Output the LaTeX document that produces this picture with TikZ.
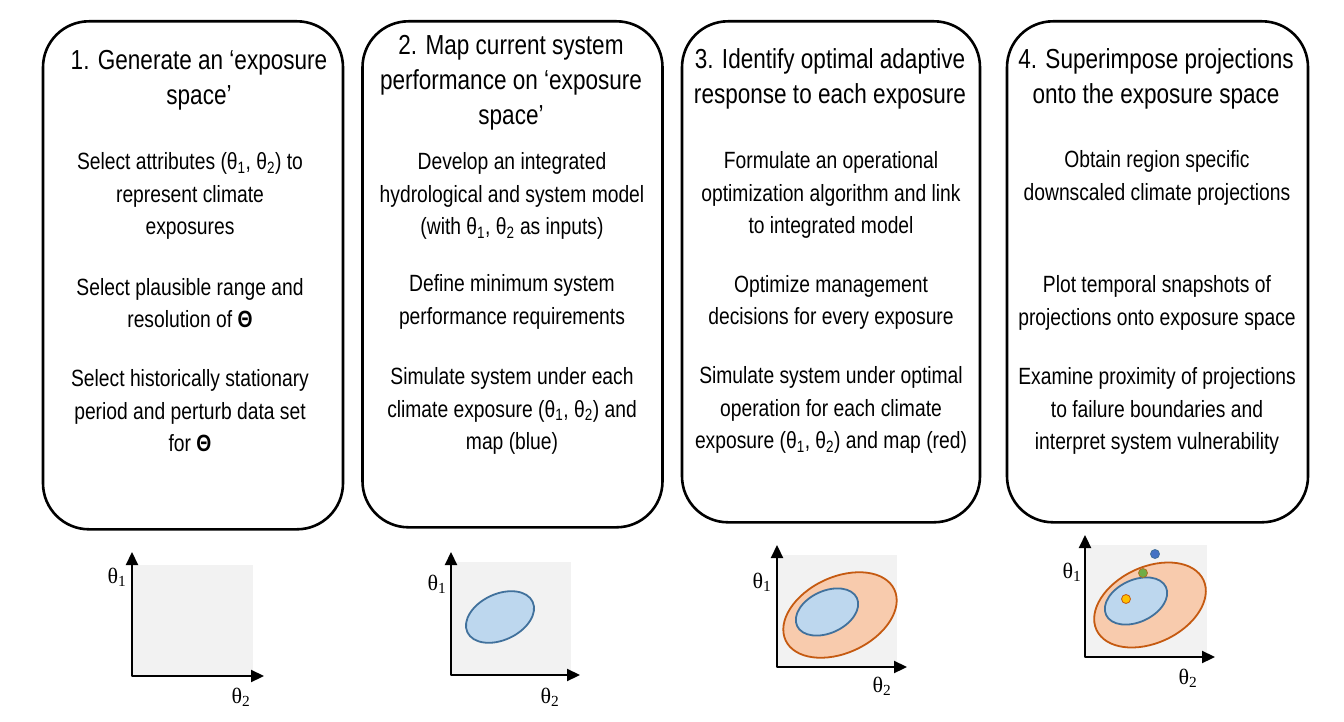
\documentclass[tikz,border=0pt]{standalone}
\usepackage{fontspec}
\setmainfont{Liberation Sans}[FakeStretch=0.82]
\newfontfamily\plotfont{Liberation Serif}
\usepackage{tikz}
\usetikzlibrary{arrows.meta,positioning}
\definecolor{panelgray}{HTML}{F2F2F2}
\definecolor{feasfill}{HTML}{BDD7EE}
\definecolor{feasline}{HTML}{41719C}
\definecolor{adaptfill}{HTML}{F8CBAD}
\definecolor{adaptline}{HTML}{C55A11}
\definecolor{dotblue}{HTML}{4472C4}
\definecolor{dotgreen}{HTML}{70AD47}
\definecolor{dotyellow}{HTML}{FFC000}
\tikzset{
  stepbox/.style={draw, line width=2.6pt, rounded corners=46pt, minimum width=300pt, inner sep=0pt, anchor=north},
  steptitle/.style={align=center, inner sep=0pt, font=\fontsize{27.5}{35}\selectfont},
  steptext/.style={align=center, inner sep=0pt, font=\fontsize{23.5}{32.5}\selectfont},
  axisarrow/.style={line width=2.2pt, {Triangle[length=13pt,width=12pt]}-{Triangle[length=13pt,width=12pt]}},
  axislabel/.style={inner sep=0pt, font=\plotfont\fontsize{22}{24}\selectfont},
  feasible/.style={draw=feasline, fill=feasfill, line width=1.8pt},
  adaptive/.style={draw=adaptline, fill=adaptfill, line width=1.8pt},
  projdot/.style={circle, line width=0.8pt, minimum size=9pt, inner sep=0pt}
}
\newcommand{\thsub}[1]{θ\textsubscript{#1}}

\begin{document}
\begin{tikzpicture}[line cap=round,line join=round,x=1pt,y=1pt]
  \useasboundingbox (0,0) rectangle (1344,-722);

  % the four steps
  \node[stepbox, minimum height=508pt] (box1) at (193,-20) {};
  \node[stepbox, minimum height=506pt] (box2) at (512.5,-20) {};
  \node[stepbox, minimum height=501pt, minimum width=298pt] (box3) at (831,-20) {};
  \node[stepbox, minimum height=501pt, minimum width=301pt] (box4) at (1157.5,-20) {};

  \node[steptitle] (title1) at (199,-80) {1. Generate an ‘exposure\\space’};
  \node[steptext] (text1a) at (190,-196) {Select attributes (\thsub{1}, \thsub{2}) to\\represent climate\\exposures};
  \node[steptext] (text1b) at (190,-303) {Select plausible range and\\resolution of {\bfseries Θ}};
  \node[steptext] (text1c) at (190,-411) {Select historically stationary\\period and perturb data set\\for {\bfseries Θ}};

  \node[steptitle] (title2) at (511,-83) {2. Map current system\\performance on ‘exposure\\space’};
  \node[steptext] (text2a) at (512,-196) {Develop an integrated\\hydrological and system model\\(with \thsub{1}, \thsub{2} as inputs)};
  \node[steptext] (text2b) at (512,-302) {Define minimum system\\performance requirements};
  \node[steptext] (text2c) at (512,-411) {Simulate system under each\\climate exposure (\thsub{1}, \thsub{2}) and\\map (blue)};

  \node[steptitle] (title3) at (830,-79) {3. Identify optimal adaptive\\response to each exposure};
  \node[steptext] (text3a) at (831,-195) {Formulate an operational\\optimization algorithm and link\\to integrated model};
  \node[steptext] (text3b) at (831,-302.5) {Optimize management\\decisions for every exposure};
  \node[steptext] (text3c) at (831,-410) {Simulate system under optimal\\operation for each climate\\exposure (\thsub{1}, \thsub{2}) and map (red)};

  \node[steptitle] (title4) at (1156,-79) {4. Superimpose projections\\onto the exposure space};
  \node[steptext] (text4a) at (1157,-178) {Obtain region specific\\downscaled climate projections};
  \node[steptext] (text4b) at (1157,-303) {Plot temporal snapshots of\\projections onto exposure space};
  \node[steptext] (text4c) at (1157,-411) {Examine proximity of projections\\to failure boundaries and\\interpret system vulnerability};

  % exposure space 1
  \fill[panelgray] (133,-565) rectangle (253,-676);
  \coordinate (o1) at (132,-676);
  \coordinate (top1) at (132,-552);
  \coordinate (end1) at (264,-676);
  \draw[axisarrow] (top1) -- (o1) -- (end1);
  \node[axislabel] (th1a) at (117,-577) {\thsub{1}};
  \node[axislabel] (th2a) at (241,-697) {\thsub{2}};

  % exposure space 2
  \fill[panelgray] (451,-562) rectangle (571,-675);
  \coordinate (o2) at (451,-675);
  \coordinate (top2) at (451,-552);
  \coordinate (end2) at (580,-675);
  \draw[axisarrow] (top2) -- (o2) -- (end2);
  \draw[feasible, rotate around={25:(500,-617)}] (500,-617) ellipse (36 and 23);
  \node[axislabel] (th1b) at (437,-584) {\thsub{1}};
  \node[axislabel] (th2b) at (550,-697) {\thsub{2}};

  % exposure space 3
  \fill[panelgray] (777,-555) rectangle (897,-667);
  \coordinate (o3) at (777,-667);
  \coordinate (top3) at (777,-545);
  \coordinate (end3) at (907,-667);
  \draw[axisarrow] (top3) -- (o3) -- (end3);
  \draw[adaptive, rotate around={25:(840,-615)}] (840,-615) ellipse (60 and 38);
  \draw[feasible, rotate around={25:(827,-612)}] (827,-612) ellipse (33 and 21);
  \node[axislabel] (th1c) at (762,-582) {\thsub{1}};
  \node[axislabel] (th2c) at (882,-686) {\thsub{2}};

  % exposure space 4
  \fill[panelgray] (1085,-545) rectangle (1207,-657);
  \coordinate (o4) at (1085,-657);
  \coordinate (top4) at (1085,-535);
  \coordinate (end4) at (1215,-657);
  \draw[axisarrow] (top4) -- (o4) -- (end4);
  \draw[adaptive, rotate around={25:(1150,-605)}] (1150,-605) ellipse (59 and 38);
  \draw[feasible, rotate around={25:(1136,-601)}] (1136,-601) ellipse (33 and 21);
  \node[projdot, draw=feasline, fill=dotblue] (proj1) at (1155,-554) {};
  \node[projdot, draw=adaptline!70!dotgreen, fill=dotgreen] (proj2) at (1143,-573) {};
  \node[projdot, draw=adaptline, fill=dotyellow] (proj3) at (1126,-599) {};
  \node[axislabel] (th1d) at (1072,-572) {\thsub{1}};
  \node[axislabel] (th2d) at (1188,-678) {\thsub{2}};
\end{tikzpicture}
\end{document}
